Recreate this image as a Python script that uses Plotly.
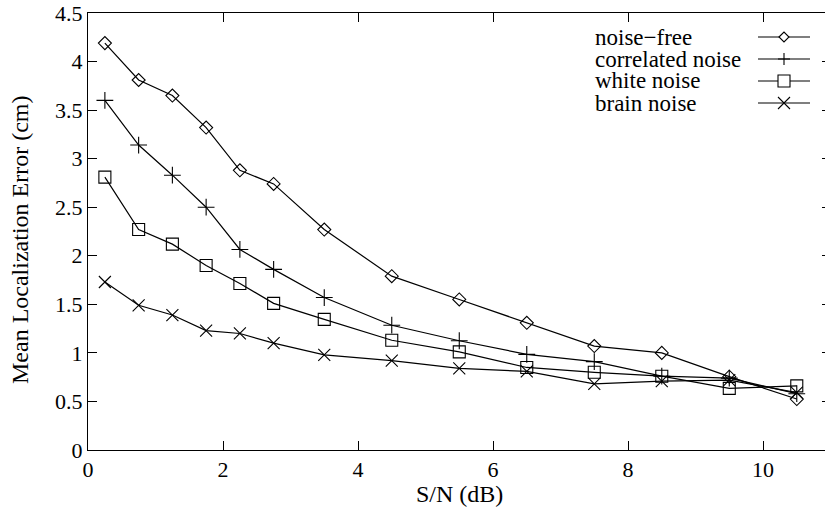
import plotly.graph_objects as go

snr = [0.25, 0.75, 1.25, 1.75, 2.25, 2.75, 3.5, 4.5, 5.5, 6.5, 7.5, 8.5, 9.5, 10.5]
noise_free = [4.19, 3.81, 3.65, 3.32, 2.88, 2.74, 2.27, 1.79, 1.55, 1.31, 1.07, 1.00, 0.755, 0.525]
correlated = [3.60, 3.14, 2.83, 2.50, 2.065, 1.86, 1.57, 1.285, 1.125, 0.985, 0.91, 0.76, 0.74, 0.58]
white = [2.81, 2.27, 2.12, 1.90, 1.715, 1.51, 1.345, 1.13, 1.01, 0.85, 0.80, 0.76, 0.635, 0.66]
brain = [1.73, 1.49, 1.39, 1.23, 1.20, 1.10, 0.98, 0.92, 0.84, 0.81, 0.68, 0.71, 0.72, 0.59]

series_names = ["noise−free", "correlated noise", "white noise", "brain noise"]
series_values = [noise_free, correlated, white, brain]
symbols = ["diamond-open", "cross-thin-open", "square-open", "x-thin-open"]
sizes = [10, 12, 12, 12]

x_ticks = [0, 2, 4, 6, 8, 10]
y_ticks = [0, 0.5, 1, 1.5, 2, 2.5, 3, 3.5, 4, 4.5]

FONT = "Liberation Serif, Times New Roman, serif"
TICK_SIZE = 22
TEXT_SIZE = 24
LEGEND_SIZE = 23

fig = go.Figure()
for name, vals, sym, sz in zip(series_names, series_values, symbols, sizes):
    fig.add_trace(go.Scatter(
        x=snr, y=vals, mode="lines+markers", name=name, showlegend=False,
        line=dict(color="black", width=1.2),
        marker=dict(symbol=sym, size=sz, color="black", line=dict(color="black", width=1.1)),
    ))

# dummy trace for right-side ticks
fig.add_trace(go.Scatter(x=[None], y=[None], yaxis="y2", showlegend=False))

fig.update_layout(
    width=825, height=510,
    margin=dict(l=88, r=0, t=13, b=60, pad=0),
    paper_bgcolor="white", plot_bgcolor="white",
    font=dict(family=FONT, size=TEXT_SIZE, color="black"),
    xaxis=dict(range=[0, 10.918], tickvals=x_ticks, showgrid=False, zeroline=False,
               showline=True, linecolor="black", linewidth=1, mirror="ticks",
               ticks="inside", ticklen=9, tickcolor="black", automargin=False,
               ticklabeloverflow="allow",
               tickfont=dict(family=FONT, size=TICK_SIZE)),
    yaxis=dict(range=[0, 4.5], tickvals=y_ticks, showgrid=False, zeroline=False,
               showline=True, linecolor="black", linewidth=1, mirror=False,
               ticks="inside", ticklen=9, tickcolor="black", automargin=False,
               ticklabeloverflow="allow",
               tickfont=dict(family=FONT, size=TICK_SIZE)),
    yaxis2=dict(range=[0, 4.5], tickvals=y_ticks, overlaying="y", side="right",
                showgrid=False, zeroline=False, showline=False, automargin=False,
                ticks="inside", ticklen=3, tickcolor="black", showticklabels=False),
)

# pixel helpers (plot area spans x 88..825, y 13..450)
plot_top, plot_h = 13, 437
plot_left, plot_w = 88, 737
def px_x(p):
    return (p - plot_left) / plot_w
def px_y(p):
    return 1 - (p - plot_top) / plot_h

# axis titles
fig.add_annotation(xref="paper", yref="paper", x=px_x(459), y=px_y(494), yanchor="middle",
                   text="S/N (dB)", showarrow=False, font=dict(family=FONT, size=TEXT_SIZE))
fig.add_annotation(xref="paper", yref="paper", x=px_x(20), y=px_y(240), xanchor="center",
                   yanchor="middle",
                   text="Mean Localization Error (cm)", textangle=-90, showarrow=False,
                   font=dict(family=FONT, size=TEXT_SIZE))

# custom legend: text on the left, sample on the right
leg_rows_px = [37, 59, 81, 103]

for name, sym, ypix in zip(series_names, symbols, leg_rows_px):
    yy = px_y(ypix)
    fig.add_annotation(xref="paper", yref="paper", x=px_x(593), y=yy, xanchor="left",
                       yanchor="middle", text=name, showarrow=False,
                       font=dict(family=FONT, size=LEGEND_SIZE))
    fig.add_shape(type="line", xref="paper", yref="paper", x0=px_x(758), x1=px_x(810),
                  y0=yy, y1=yy, line=dict(color="black", width=1.2))
    cx, cy = 784, ypix
    if sym.startswith("diamond"):
        path = f"M {cx-5},{cy} L {cx},{cy-5} L {cx+5},{cy} L {cx},{cy+5} Z"
        fill = "white"
    elif sym.startswith("square"):
        path = f"M {cx-6},{cy-6} L {cx+6},{cy-6} L {cx+6},{cy+6} L {cx-6},{cy+6} Z"
        fill = "white"
    elif sym.startswith("cross"):
        path = f"M {cx-6},{cy} L {cx+6},{cy} M {cx},{cy-6} L {cx},{cy+6}"
        fill = None
    else:
        path = f"M {cx-6},{cy-6} L {cx+6},{cy+6} M {cx-6},{cy+6} L {cx+6},{cy-6}"
        fill = None
    fig.add_shape(type="path", xref="paper", yref="paper",
                  path=" ".join(
                      tok if tok in ("M", "L", "Z") else
                      f"{px_x(float(tok.split(',')[0])):.5f},{px_y(float(tok.split(',')[1])):.5f}"
                      for tok in path.split()),
                  fillcolor=fill if fill else "rgba(0,0,0,0)",
                  line=dict(color="black", width=1.1))

fig.write_html(
    "out.html",
    config={"displayModeBar": False},
    post_script="document.body.style.margin='0';document.body.style.overflow='hidden';"
                "document.documentElement.style.overflow='hidden';",
)
